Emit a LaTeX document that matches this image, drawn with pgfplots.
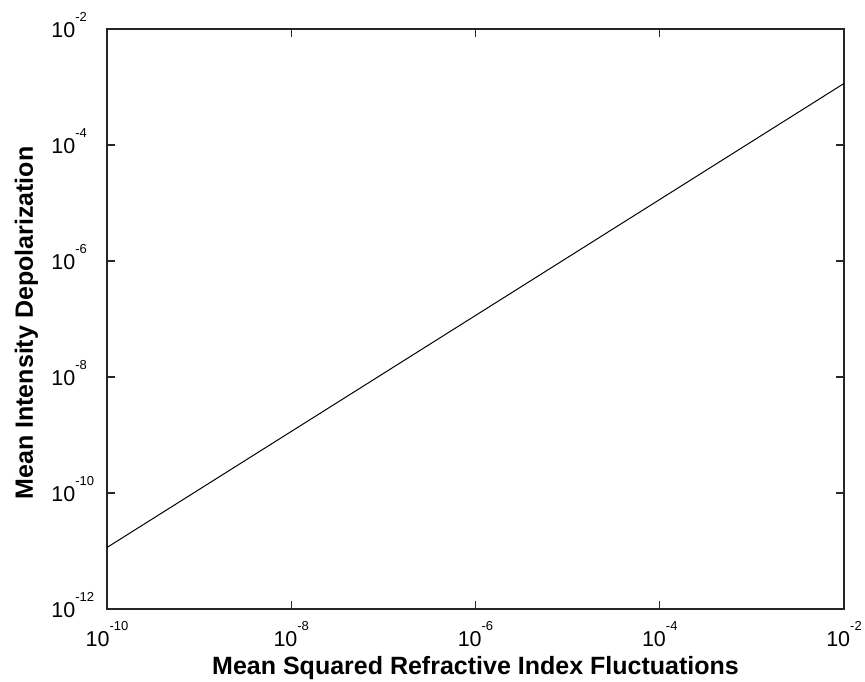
\documentclass[border=0pt]{standalone}
\usepackage{fontspec}
\setmainfont{Liberation Sans}
\usepackage{pgfplots}
\pgfplotsset{compat=1.18}

% tick label "10^e" with a small raised exponent, set in text font
\newcommand{\tenpow}[1]{10\raisebox{16bp}{\fontsize{13bp}{13bp}\selectfont #1}}
\newcommand{\ytenpow}[1]{\llap{10}\rlap{\raisebox{16bp}{\fontsize{13bp}{13bp}\selectfont #1}}}

\begin{document}
\begin{tikzpicture}
\useasboundingbox (-107bp,-73bp) rectangle (758bp,609bp);
\begin{axis}[
  at={(0,0)}, anchor=south west,
  scale only axis,
  width=737bp, height=580bp,
  xmode=log, ymode=log,
  xmin=1e-10, xmax=1e-2,
  ymin=1e-12, ymax=1e-2,
  xtick={1e-10,1e-8,1e-6,1e-4,1e-2},
  ytick={1e-12,1e-10,1e-8,1e-6,1e-4,1e-2},
  xticklabels={\tenpow{-10},\tenpow{-8},\tenpow{-6},\tenpow{-4},\tenpow{-2}},
  yticklabels={\ytenpow{-12},\ytenpow{-10},\ytenpow{-8},\ytenpow{-6},\ytenpow{-4},\ytenpow{-2}},
  minor tick num=0,
  minor xtick={}, minor ytick={},
  tick align=inside,
  major tick length=8bp,
  tick style={line width=1.1bp, color=black!85},
  axis line style={line width=1.3bp, color=black!85},
  xticklabel style={font=\fontsize{21.5bp}{21.5bp}\selectfont, anchor=base, inner sep=0pt, yshift=-37bp},
  yticklabel style={font=\fontsize{21.5bp}{21.5bp}\selectfont, anchor=base east, inner sep=0pt, xshift=-31bp, yshift=-8.5bp},
  xlabel={Mean Squared Refractive Index Fluctuations},
  ylabel={Mean Intensity Depolarization},
  xlabel style={font=\fontsize{25bp}{25bp}\selectfont\bfseries, at={(axis description cs:0.5,0)}, anchor=base, inner sep=0pt, yshift=-65bp},
  ylabel style={font=\fontsize{25bp}{25bp}\selectfont\bfseries, at={(axis description cs:0,0.5)}, anchor=base, inner sep=0pt, yshift=74bp, xshift=-4bp},
]
\addplot[black, line width=1bp, mark=none] coordinates {
  (1e-10,1.15e-11) (1e-9,1.15e-10) (1e-8,1.15e-9) (1e-7,1.15e-8)
  (1e-6,1.15e-7) (1e-5,1.15e-6) (1e-4,1.15e-5) (1e-3,1.15e-4) (1e-2,1.15e-3)
};
\end{axis}
\end{tikzpicture}
\end{document}
